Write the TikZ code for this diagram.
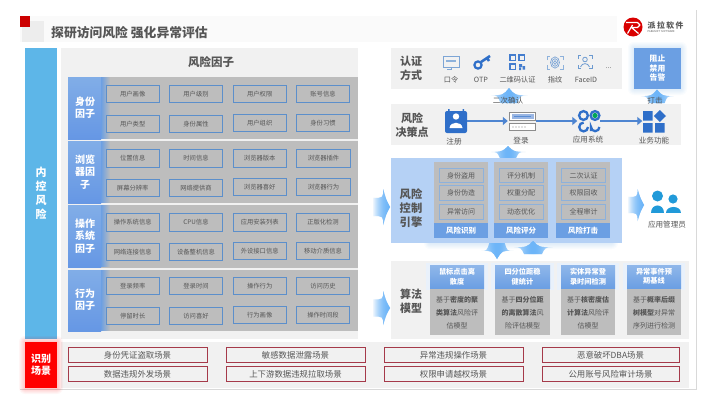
\documentclass[tikz,border=0pt]{standalone}
\usepackage{fontspec}
\setmainfont{Noto Sans CJK SC}
\usetikzlibrary{fadings,arrows.meta,shapes.geometric}
\definecolor{txt}{HTML}{565656}
\definecolor{panel}{HTML}{F1F1F1}
\definecolor{greyrow}{HTML}{BDBDBD}
\definecolor{bluebord}{HTML}{5C8FCB}
\definecolor{bluehead}{HTML}{6B9FE3}
\definecolor{glowblue}{HTML}{6DB5F8}
\definecolor{iconblue}{HTML}{2F6FC9}
\definecolor{scenbord}{HTML}{A53A4A}
\definecolor{barblue}{HTML}{5DB6E8}
\definecolor{enginebg}{HTML}{B5D1F5}
\tikzfading[name=hfade,left color=transparent!100,right color=transparent!100,middle color=transparent!0]
\tikzfading[name=rfade,left color=transparent!100,right color=transparent!0]
\tikzfading[name=lfade,left color=transparent!0,right color=transparent!100]
\newcommand{\fsz}[2]{\fontsize{#1}{#2}\selectfont}
\newcommand{\glowv}[4]{% x, ytip, ybase, halfwidth
  \pgfmathsetmacro{\gm}{#2+0.5*(#3-#2)}
  \pgfmathsetmacro{\gr}{#1+#4}\pgfmathsetmacro{\gl}{#1-#4}
  \pgfmathsetmacro{\gri}{#1+0.45*#4}\pgfmathsetmacro{\gli}{#1-0.45*#4}
  \foreach \rep in {1,2}{\fill[glowblue,path fading=hfade] (#1,#2) .. controls (#1+0.3*#4,\gm-0.5) .. (\gr,\gm) .. controls (#1+0.6*#4,\gm) .. (\gri,#3) -- (\gli,#3) .. controls (#1-0.6*#4,\gm) .. (\gl,\gm) .. controls (#1-0.3*#4,\gm-0.5) .. cycle;}}
\newcommand{\glowh}[4]{% xbase, xtip, y, halfheight
  \pgfmathsetmacro{\gm}{#1+0.62*(#2-#1)}
  \foreach \rep in {1,2}{\fill[glowblue,path fading=rfade] (#1,#3-0.5*#4) .. controls (\gm,#3-0.5*#4) .. (\gm,#3-#4) .. controls (\gm+3,#3-0.4*#4) .. (#2,#3) .. controls (\gm+3,#3+0.4*#4) .. (\gm,#3+#4) .. controls (\gm,#3+0.5*#4) .. (#1,#3+0.5*#4) -- cycle;}}
\newcommand{\halo}[5]{% x1,y1,x2,y2,colour
  \foreach \d in {1,2,3,4,5,6}{\fill[#5,opacity=0.035,rounded corners=\d pt] (#1-\d,#2-\d) rectangle (#3+\d,#4+\d);}}
\tikzset{
  fbox/.style={draw=bluebord,line width=0.8pt,fill=greyrow,minimum width=53.5pt,minimum height=17.5pt,inner sep=0pt,text=txt,font=\fsz{6.3}{7}},
  ebox/.style={draw=bluebord!70,line width=0.7pt,fill=greyrow,minimum width=44pt,minimum height=14.5pt,inner sep=0pt,text=txt,font=\fsz{7}{8}},
  scen/.style={draw=scenbord,line width=0.8pt,fill=panel,minimum height=15.5pt,inner sep=0pt,text=txt,font=\fsz{8.4}{9}},
  rowlabel/.style={text=white,align=center,font=\fsz{10}{12.2}\bfseries,inner sep=0pt},
  sidelabel/.style={text=txt,align=center,font=\fsz{11}{13.7}\bfseries,inner sep=0pt},
  iconlabel/.style={text=txt,font=\fsz{7.6}{8},inner sep=0pt},
  authlabel/.style={text=txt,font=\fsz{7.2}{8},inner sep=0pt},
  cardhead/.style={text=white,align=center,font=\fsz{7.2}{9.5}\bfseries,inner sep=0pt},
  cardbody/.style={text=txt,align=center,font=\fsz{7}{13},inner sep=0pt},
  iconspot/.style={minimum width=#1,minimum height=#1,inner sep=0pt},
  flow/.style={draw=iconblue!85,line width=2.6pt,-{Triangle[length=5pt,width=8pt]},shorten >=0.5pt},
}
\begin{document}
\begin{tikzpicture}[x=1pt,y=-1pt]
\useasboundingbox (0,0) rectangle (707,407);
\fill[white] (0,0) rectangle (707,407);
% frame and header
\fill[black!2] (20,16) rectangle (617,42);
\fill[black!7] (22,21) rectangle (44,42);
\fill[red!80!black] (20,16) rectangle (30,27);
\draw[black!15,line width=0.8pt] (20,389) -- (696.5,389) -- (696.5,10);
\node[text=txt,font=\fsz{12.8}{14}\bfseries,anchor=west,inner sep=0pt] (title) at (51,33) {探研访问风险 强化异常评估};
% logo
\fill[red!85!black] (633,27) circle (9.5);
\draw[white,line width=1.2pt,line join=round] (626,22.5) -- (637.5,22.5) -- (640,25) -- (637.5,27.5) -- (631.5,27.5) -- (638.5,33.5) (632.5,25) -- (627.5,33.5);
\node[text=txt,font=\fsz{7.8}{8}\bfseries,anchor=west,inner sep=0pt] (logotext) at (647.5,25.5) {派\hspace{1.5pt}拉\hspace{1.5pt}软\hspace{1.5pt}件};
\node[text=txt,font=\fsz{2.6}{3},anchor=west,inner sep=0pt] (logosub) at (647.5,32) {PARASOFT SOFTWARE};
% left bar
\fill[barblue] (25,48) rectangle (57,339);
\node[text=white,font=\fsz{11}{14}\bfseries,align=center,inner sep=0pt] (bar) at (41,193) {内\\控\\风\\险};
% factor panel
\fill[panel] (61,48) rectangle (358,339);
\node[text=txt,font=\fsz{11.5}{13}\bfseries,inner sep=0pt] (factors) at (211,62) {风险因子};
\foreach \a/\b in {77/139,141/203,205/267.5,270/331}{
  \fill[greyrow] (68,\a) rectangle (358,\b);
  \fill[bluehead,path fading=lfade] (101,\a) rectangle (110,\b);
  \shade[top color=bluehead!85!white,bottom color=bluehead!95!blue] (68,\a) rectangle (101,\b);
}
\node[rowlabel] (f1) at (85,108) {身份\\因子};
\node[rowlabel] (f2) at (85,172) {浏览\\器因\\子};
\node[rowlabel] (f3) at (85,236) {操作\\系统\\因子};
\node[rowlabel] (f4) at (85,300) {行为\\因子};
\foreach \n/\x/\y/\t in {
 a1/132.7/94/用户画像,a2/196/94/用户级别,a3/259.7/94/用户权限,a4/323/94/账号信息,
 a5/132.7/124/用户类型,a6/196/124/身份属性,a7/259.7/123/用户组织,a8/323/123/身份习惯,
 b1/132.7/158.3/位置信息,b2/196/158.3/时间信息,b3/259.7/158.3/浏览器版本,b4/323.5/158.3/浏览器插件,
 b5/132.7/188/屏幕分辨率,b6/196/188/网络提供商,b7/259.7/187/浏览器喜好,b8/323.5/187/浏览器行为,
 c1/132.7/222.5/操作系统信息,c2/196/222.5/CPU信息,c3/259.7/222.5/应用安装列表,c4/323/222.5/正版化检测,
 c5/132.7/251.7/网络连接信息,c6/196/251.7/设备整机信息,c7/259.7/251/外设接口信息,c8/323/251/移动介质信息,
 d1/132.7/286/登录频率,d2/196/286/登录时间,d3/259.7/286/操作行为,d4/323/286/访问历史,
 d5/132.7/315.7/停留时长,d6/196/315.7/访问喜好,d7/259.7/315/行为画像,d8/323/315/操作时间段}{
  \node[fbox] (\n) at (\x,\y) {\t};
}
% auth panel
\fill[panel] (391,48) rectangle (622,89);
\node[sidelabel] (auth) at (411,68.5) {认证\\方式};
\halo{634}{48}{681}{89}{glowblue}
\node[fill=bluehead,minimum width=47pt,minimum height=41pt,inner sep=0pt,text=white,align=center,font=\fsz{7.8}{9.5}\bfseries] (block) at (657.5,68.5) {阻止\\禁用\\告警};
% auth icons
\node[iconspot=17pt] (i1) at (451,62) {};
\draw[bluebord!80,line width=0.7pt] (443,56) rectangle (459,67);
\fill[bluebord!70] (446,59.5) rectangle (456,62);
\draw[bluebord!80,line width=0.6pt] (451,67) -- (451,69.5) (447,69.5) -- (451,69.5);
\node[iconspot=17pt] (i2) at (483,62) {};
\draw[iconblue,line width=2.2pt] (478,65) circle (3.6);
\draw[iconblue,line width=2.6pt] (481,62) -- (490,56) (487,58) -- (489,61);
\node[iconspot=17pt] (i3) at (517,62) {};
\foreach \x/\y in {510/55,519/55,510/64}{\draw[iconblue!90,line width=1.6pt] (\x,\y) rectangle (\x+5.5,\y+5.5);}
\fill[iconblue!90] (519,64) rectangle (522,67) (522.5,66) rectangle (525,69.5) (519,67.5) rectangle (521,70);
\node[iconspot=17pt] (i4) at (555,62) {};
\draw[bluebord!70,line width=0.6pt] (547,60) -- (547,56) -- (550,56) (563,60) -- (563,56) -- (560,56) (547,65) -- (547,69) -- (550,69) (563,65) -- (563,69) -- (560,69);
\foreach \r in {1.5,3,4.5}{\draw[bluebord!80,line width=0.7pt] (555,62.5) ellipse ({\r} and {\r*1.25});}
\node[iconspot=17pt] (i5) at (585,62) {};
\draw[bluebord!90,line width=0.8pt] (578,59) -- (578,55.5) -- (581,55.5) (592,59) -- (592,55.5) -- (589,55.5) (578,65) -- (578,68.5) -- (581,68.5) (592,65) -- (592,68.5) -- (589,68.5);
\draw[bluebord!90,line width=0.8pt] (585,59.5) circle (2.3);
\draw[bluebord!90,line width=0.8pt] (580.5,67) .. controls (582,62.5) and (588,62.5) .. (589.5,67);
\node[authlabel] (l1) at (451,80) {口令};
\node[authlabel] (l2) at (481,80) {OTP};
\node[authlabel] (l3) at (517.5,80) {二维码认证};
\node[authlabel] (l4) at (555,80) {指纹};
\node[authlabel] (l5) at (586,80) {FaceID};
\node[authlabel] (l6) at (608.5,68.5) {...};
% decision panel
\glowv{509}{88}{103}{19}
\glowv{657}{89.5}{103}{17}
\fill[panel] (391,104) rectangle (681,145);
\node[iconlabel] (twice) at (508,101) {二次确认};
\node[iconlabel] (strike) at (655,101) {打击};
\node[sidelabel] (dec) at (412,125.5) {风险\\决策点};
\node[iconspot=22pt] (reg) at (456,121) {};
\fill[iconblue,rounded corners=2pt] (445,111) rectangle (467,133);
\fill[iconblue] (448,109) rectangle (449.5,112) (462.5,109) rectangle (464,112);
\fill[white] (456,116.5) circle (3.2);
\fill[white] (449.5,128) .. controls (450,121) and (462,121) .. (462.5,128) -- cycle;
\node[iconspot=22pt,minimum width=27pt] (srv) at (522,121) {};
\draw[black!45,fill=white,line width=0.7pt] (509.5,112) rectangle (535.5,120);
\fill[cyan!50!blue!40] (511.5,113.5) rectangle (533.5,118.5);
\draw[iconblue!80,line width=0.6pt] (514,116) -- (531,116);
\draw[black!45,fill=white,line width=0.7pt] (509.5,123.5) rectangle (535.5,130.5);
\foreach \x in {513,516,519,522,525}{\fill[black!50] (\x,127) circle (0.6);}
\node[iconspot=22pt] (app) at (589,121) {};
\draw[iconblue,line width=2.3pt] (583.5,115.5) circle (4.4);
\fill[teal!70!green] (595,115.5) circle (2.6);
\draw[iconblue,line width=2.3pt] (595,115.5) circle (4.4);
\draw[iconblue,line width=2.3pt] (588,127) arc[start angle=0,end angle=270,radius=4.4];
\draw[iconblue,line width=2.3pt] (591,131) -- (591,127) arc[start angle=180,end angle=0,radius=4.2];
\node[iconspot=22pt] (biz) at (654,121) {};
\fill[iconblue] (643,111) rectangle (652.5,120.5) (643,123) rectangle (652.5,132.5) (655,123) rectangle (664.5,132.5);
\fill[iconblue] (659.8,110) -- (666,116) -- (659.8,122) -- (653.8,116) -- cycle;
\draw[flow] (reg.east) -- (srv.west);
\draw[flow] (srv.east) -- (app.west);
\draw[flow] (app.east) -- (biz.west);
\node[iconlabel] (l7) at (454,141.5) {注册};
\node[iconlabel] (l8) at (521,140.5) {登录};
\node[iconlabel] (l9) at (588,139.5) {应用系统};
\node[iconlabel] (l10) at (654,140.5) {业务功能};
% engine
\glowv{508}{146}{158}{18}
\halo{430}{239}{612}{243}{glowblue}
\fill[enginebg] (391,158) rectangle (622,243);
\node[sidelabel,font=\fsz{11.3}{14}\bfseries] (eng) at (411,208) {风险\\控制\\引擎};
\foreach \a/\b/\cx/\hd/\n in {434/488/461/风险识别/e1,494/548/521/风险评分/e2,556/610/583/风险打击/e3}{
  \fill[greyrow] (\a,162) rectangle (\b,223);
  \node[fill=bluehead,minimum width=54pt,minimum height=15pt,inner sep=0pt,text=white,font=\fsz{7.5}{8}\bfseries] (\n) at (\cx,230.5) {\hd};
}
\foreach \n/\x/\y/\t in {g1/461/175.5/身份盗用,g2/461/193/身份伪造,g3/461/212/异常访问,
  g4/521/175.5/评分机制,g5/521/193/权重分配,g6/521/212/动态优化,
  g7/583.5/175.5/二次认证,g8/583.5/193/权限回收,g9/583.5/212/全程审计}{
  \node[ebox] (\n) at (\x,\y) {\t};
}
\glowh{372}{390}{207}{18}
\glowh{627}{644}{205}{16}
% admin
\node[iconspot=30pt] (adm) at (666,202) {};
\fill[iconblue!70!cyan] (657.5,196) circle (5.5);
\fill[iconblue!70!cyan] (673,199) circle (4.6);
\fill[iconblue!70!cyan] (651,213) .. controls (651,203) and (664,203) .. (664,213) -- cycle;
\fill[iconblue!70!cyan] (665.5,213) .. controls (665.5,205) and (681,205) .. (681,213) -- cycle;
\node[iconlabel] (admt) at (667,225) {应用管理员};
% algorithms
\glowv{533}{241}{254}{20}
\fill[panel] (391,261) rectangle (689,338.5);
\glowv{497}{259}{243}{17}
\glowh{372}{390}{308}{17}
\node[sidelabel] (alg) at (411,301.5) {算法\\模型};
\foreach \a/\b in {430/484,495/550,561/615,627/681}{\fill[bluehead!15] (\a-4,263) rectangle (\b+4,290);}
\foreach \a/\b in {430/484,495/550,561/615,627/681}{
  \fill[greyrow] (\a,288) rectangle (\b,335);
  \shade[top color=bluehead!75!white,bottom color=bluehead] (\a,265) rectangle (\b,288);
}
\node[cardhead] (h1) at (457,276.5) {鼠标点击离\\散度};
\node[cardhead] (h2) at (522.5,276.5) {四分位距稳\\健统计};
\node[cardhead] (h3) at (588,276.5) {实体异常登\\录时间检测};
\node[cardhead] (h4) at (654,276.5) {异常事件预\\期基线};
\node[cardbody] (b1x) at (457,313) {基于\textbf{密度的聚}\\\textbf{类算法}风险评\\估模型};
\node[cardbody] (b2x) at (522.5,313) {基于\textbf{四分位距}\\\textbf{的离散算法}风\\险评估模型};
\node[cardbody] (b3x) at (588,313) {基于\textbf{核密度估}\\\textbf{计算法}风险评\\估模型};
\node[cardbody] (b4x) at (654,313) {基于\textbf{概率后缀}\\\textbf{树模型}对异常\\序列进行检测};
% scenarios
\fill[panel] (61,342) rectangle (689,388);
\halo{25}{342}{57}{388}{red}
\node[fill=red,minimum width=32pt,minimum height=46pt,inner sep=0pt,text=white,align=center,font=\fsz{10}{12}\bfseries] (scn) at (41,365) {识别\\场景};
\foreach \n/\x/\w/\y/\t in {
 s1/137.5/139/355/身份凭证盗取场景,s2/137.5/139/374/数据违规外发场景,
 s3/295.5/139/355/敏感数据泄露场景,s4/295.5/139/374/上下游数据违规拉取场景,
 s5/453.5/139/355/异常违规操作场景,s6/453.5/139/374/权限申请越权场景,
 s7/610.5/137/355/恶意破坏DBA场景,s8/610.5/137/374/公用账号风险审计场景}{
  \node[scen,minimum width=\w pt] (\n) at (\x,\y) {\t};
}
\end{tikzpicture}
\end{document}
